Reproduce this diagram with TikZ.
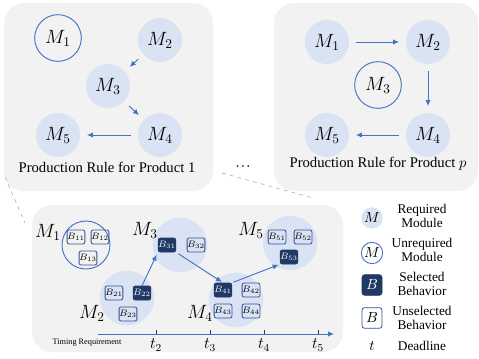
\documentclass[tikz,border=0pt]{standalone}
\usepackage{fontspec}
\setmainfont{Liberation Serif}
\usetikzlibrary{arrows.meta, positioning}
\definecolor{modfill}{RGB}{218,227,243}
\definecolor{modline}{RGB}{68,114,196}
\definecolor{selfill}{RGB}{31,56,100}
\definecolor{boxline}{RGB}{47,85,151}
\definecolor{panelgray}{RGB}{242,242,242}

\begin{document}
\begin{tikzpicture}[x=0.75pt, y=-0.75pt,
  panel/.style={fill=panelgray, rounded corners=15pt},
  reqmod/.style={circle, fill=modfill, minimum size=33pt, inner sep=0pt, font=\fontsize{14.5}{16}\selectfont},
  unreqmod/.style={circle, draw=modline, line width=0.7pt, minimum size=35pt, inner sep=0pt, font=\fontsize{14.5}{16}\selectfont},
  bigmod/.style={circle, fill=modfill, minimum size=41pt, inner sep=0pt},
  modlbl/.style={font=\fontsize{14.5}{16}\selectfont, inner sep=0pt},
  selb/.style={draw=selfill, fill=selfill, text=white, rounded corners=1.5pt, minimum width=11.5pt, minimum height=10.5pt, inner sep=0pt, font=\fontsize{7}{8}\selectfont},
  unselb/.style={draw=boxline, line width=0.6pt, rounded corners=1.5pt, minimum width=11.5pt, minimum height=10.5pt, inner sep=0pt, font=\fontsize{7}{8}\selectfont},
  arr/.style={-{Latex[length=4.5pt,width=4pt]}, modline, line width=0.7pt, shorten >=5pt, shorten <=5pt},
  barr/.style={-{Latex[length=4.5pt,width=4pt]}, modline, line width=0.7pt},
  captxt/.style={font=\fontsize{11}{12}\selectfont},
  legtxt/.style={align=center, font=\fontsize{10}{10.5}\selectfont},
  zoomline/.style={gray!70, dashed, thin},
]
\useasboundingbox (0,0) rectangle (479,358);

% === Top left: production rule for product 1 ===
\fill[panel] (4,3) rectangle (213,191);
\node[unreqmod] (a1) at (58,38) {$M_1$};
\node[reqmod] (a2) at (160,40) {$M_2$};
\node[reqmod] (a3) at (108,86) {$M_3$};
\node[reqmod] (a4) at (160,135) {$M_4$};
\node[reqmod] (a5) at (58,135) {$M_5$};
\draw[arr] (a2) -- (a3);
\draw[arr] (a3) -- (a4);
\draw[arr] (a4) -- (a5);
\node[captxt] (capa) at (107,167) {Production Rule for Product 1};

% === Top right: production rule for product p ===
\fill[panel] (274,3) rectangle (478,191);
\node[reqmod] (p1) at (327,42) {$M_1$};
\node[reqmod] (p2) at (428,42) {$M_2$};
\node[unreqmod] (p3) at (378,85) {$M_3$};
\node[reqmod] (p4) at (428,135) {$M_4$};
\node[reqmod] (p5) at (327,135) {$M_5$};
\draw[arr] (p1) -- (p2);
\draw[arr] (p2) -- (p4);
\draw[arr] (p4) -- (p5);
\node[captxt] (capp) at (378,164) {Production Rule for Product $p$};

\node[font=\fontsize{12}{12}\selectfont] (dots) at (243,167) {$\cdot\!\cdot\!\cdot$};

% zoom lines
\draw[zoomline] (5,177) -- (25,223);
\draw[zoomline] (222,173) -- (313,198);

% === Bottom: behaviours on the timeline ===
\fill[panel] (32,205) rectangle (343,352);

\node[unreqmod, minimum size=36pt] (m1) at (86,245) {};
\node[bigmod] (m2) at (127,298) {};
\node[bigmod] (m3) at (180,245) {};
\node[bigmod] (m4) at (236,300) {};
\node[bigmod] (m5) at (290,243) {};

\node[modlbl] (l1) at (48,232) {$M_1$};
\node[modlbl] (l2) at (92,313) {$M_2$};
\node[modlbl] (l3) at (145,230) {$M_3$};
\node[modlbl] (l4) at (200,313) {$M_4$};
\node[modlbl] (l5) at (251,230) {$M_5$};

\node[unselb] (b11) at (76,237) {$B_{11}$};
\node[unselb] (b12) at (100,237) {$B_{12}$};
\node[unselb] (b13) at (88,258) {$B_{13}$};

\node[unselb] (b21) at (114,293) {$B_{21}$};
\node[selb] (b22) at (142,293) {$B_{22}$};
\node[unselb] (b23) at (128,314) {$B_{23}$};

\node[selb] (b31) at (167,245) {$B_{31}$};
\node[unselb] (b32) at (196,245) {$B_{32}$};

\node[selb] (b41) at (223,290) {$B_{41}$};
\node[unselb] (b42) at (251,290) {$B_{42}$};
\node[unselb] (b43) at (223,311) {$B_{43}$};
\node[unselb] (b44) at (251,311) {$B_{44}$};

\node[unselb] (b51) at (277,237) {$B_{51}$};
\node[unselb] (b52) at (303,237) {$B_{52}$};
\node[selb] (b53) at (289,257) {$B_{53}$};

\draw[barr, shorten >=2pt] (b22.north) -- (b31.south west);
\draw[barr, shorten <=2pt, shorten >=1pt] (b31.south east) -- (b41.north);
\draw[barr, shorten <=1pt, shorten >=1pt] (b41.north east) -- (b53.south west);

% timeline
\coordinate (tl0) at (98,334);
\coordinate (tl1) at (334,334);
\draw[barr] (tl0) -- (tl1);
\foreach \x/\n in {156/2, 210/3, 264/4, 318/5} {
  \draw[selfill, thin] (\x,330) -- (\x,334);
  \node[font=\fontsize{11.5}{12}\selectfont] (t\n) at (\x,345) {$t_\n$};
}
\node[font=\fontsize{6.2}{7}\selectfont] (tr) at (87,343) {Timing Requirement};

% === Legend ===
\node[reqmod, minimum size=16pt, font=\fontsize{10.5}{12}\selectfont] (lgreq) at (372,218) {$M$};
\node[legtxt] (lgreqt) at (422,216) {Required\\Module};
\node[unreqmod, minimum size=16pt, font=\fontsize{10.5}{12}\selectfont] (lgun) at (372,253) {$M$};
\node[legtxt] (lgunt) at (422,250) {Unrequired\\Module};
\node[selb, minimum width=15pt, minimum height=15.5pt, rounded corners=2pt, font=\fontsize{10.5}{12}\selectfont] (lgsel) at (372,285) {$B$};
\node[legtxt] (lgselt) at (422,284) {Selected\\Behavior};
\node[unselb, minimum width=15pt, minimum height=15.5pt, rounded corners=2pt, font=\fontsize{10.5}{12}\selectfont] (lguns) at (372,318) {$B$};
\node[legtxt] (lgunst) at (422,318) {Unselected\\Behavior};
\node[font=\fontsize{10.5}{12}\selectfont] (lgt) at (372,346) {$t$};
\node[legtxt] (lgtt) at (422,346) {Deadline};
\end{tikzpicture}
\end{document}
